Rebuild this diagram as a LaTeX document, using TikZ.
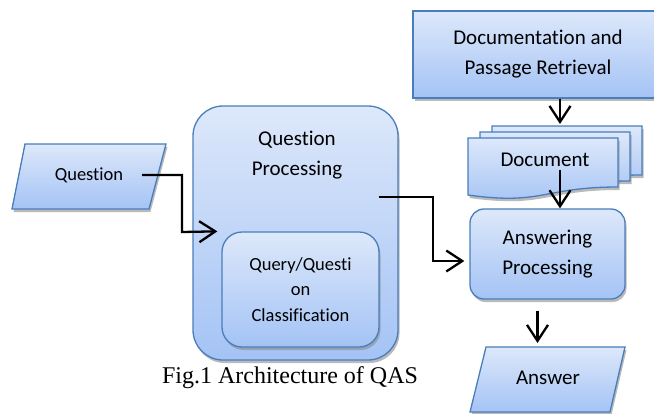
\documentclass[tikz,border=0pt]{standalone}
\usepackage{fontspec}
\setmainfont[Ligatures=NoCommon]{Carlito}
\newfontfamily\capfont{Liberation Serif}
\usetikzlibrary{arrows.meta,shadows}
\definecolor{qaline}{HTML}{4A7EBB}
\definecolor{qatop}{HTML}{DDE8FA}
\definecolor{qabot}{HTML}{A4C3F5}
\definecolor{qashadow}{HTML}{8C8C8C}
\tikzset{
  >={Straight Barb[length=16pt,width=21pt]},
  qbox/.style={draw=qaline,line width=1.3pt,top color=qatop,bottom color=qabot,
    drop shadow={shadow xshift=1.5pt,shadow yshift=-3pt,opacity=.6,fill=qashadow}},
  qtext/.style={font=\fontsize{21}{30}\selectfont,align=center},
  qsmall/.style={font=\fontsize{18.5}{25.5}\selectfont,align=center},
  qcap/.style={font=\capfont\fontsize{24}{28}\selectfont,align=center},
  flow/.style={->,draw=black,line width=2.3pt}
}
\begin{document}
\begin{tikzpicture}[x=1pt,y=-1pt]
  \useasboundingbox (0,0) rectangle (654,413);
  \clip (0,0) rectangle (654,413);

  \path[qbox] (12,209) -- (25,144) -- (166,144) -- (149,209) -- cycle;
  \node[qsmall] (question) at (89,175) {Question};

  \node[qbox,rounded corners=30pt,minimum width=205pt,minimum height=254pt] (qproc) at (295.5,233) {};
  \node[qtext] (qptitle) at (297,155) {Question\\Processing};
  \node[qbox,qsmall,rounded corners=20pt,minimum width=157pt,minimum height=115pt]
    (qclass) at (300.5,289.5) {Query/Questi\\on\\Classification};

  \node[qbox,qtext,minimum width=250pt,minimum height=87pt] (docret) at (538,54.5)
    {Documentation and\\Passage Retrieval};

  % document stack, back sheet first
  \foreach \x/\y in {492/126,480/132,468/138} {
    \path[qbox] (\x,\y) -- ({\x+150},\y) -- ({\x+150},{\y+49})
      .. controls ({\x+75},{\y+49}) and ({\x+75},{\y+67.5}) .. (\x,{\y+57}) -- cycle;
  }
  \node[qtext] (doc) at (545,160) {Document};
  \coordinate (stack) at (560,124);

  \node[qbox,qtext,rounded corners=14pt,minimum width=155pt,minimum height=90pt]
    (answering) at (547.5,254) {Answering\\Processing};
  \path[qbox] (470,412) -- (486,347) -- (625,347) -- (610,412) -- cycle;
  \node[qtext] (answer) at (548,378) {Answer};
  \coordinate (answertop) at (537.5,343);

  \node[qcap] (caption) at (290,378) {Fig.1 Architecture of QAS};

  \draw[flow] ([xshift=53pt]question.center) -| (182,232)
    -- ([xshift=-4pt]qclass.north west);
  \draw[flow] ([xshift=-20pt,yshift=36pt]qproc.east) -| (433,261)
    -- ([xshift=-5pt,yshift=-7pt]answering.west);
  \draw[flow] (docret.south -| stack) -- (stack);
  \draw[flow] (doc.south -| stack) -- (answering.north -| stack);
  \draw[flow] (answering.south -| answertop) ++(0,11) -- (answertop);
\end{tikzpicture}
\end{document}
